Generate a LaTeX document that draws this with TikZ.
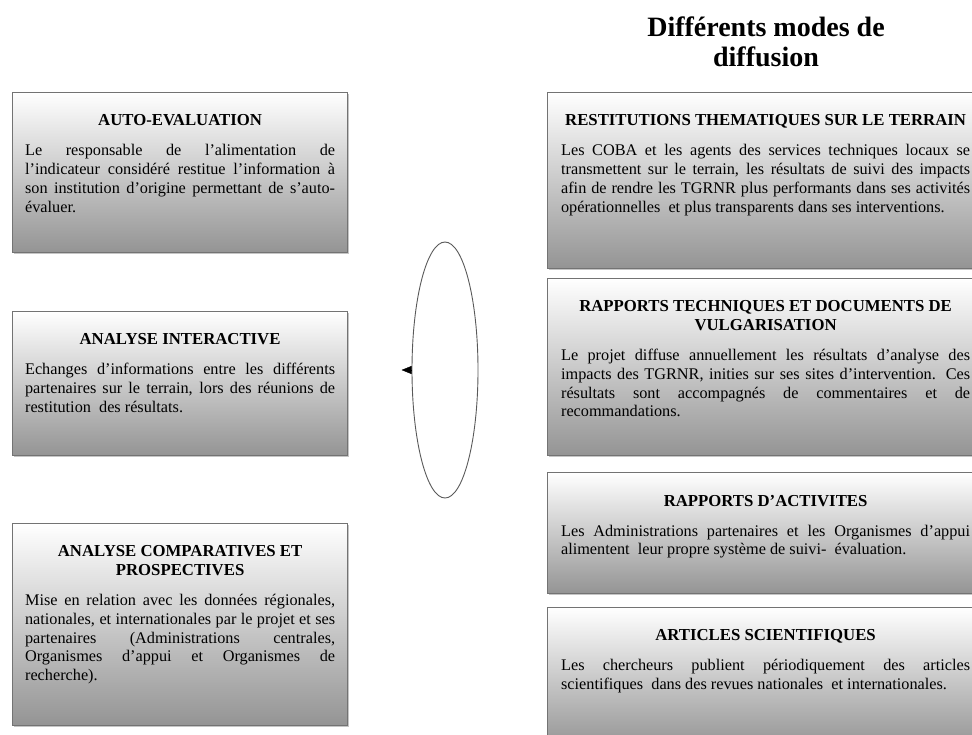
\documentclass[tikz,border=0pt]{standalone}
\usepackage{fontspec}
\setmainfont{Liberation Serif}
\usetikzlibrary{positioning, shapes.geometric, shadows, arrows.meta}
\setlength{\parindent}{0pt}

\tikzset{
    boite/.style={anchor=north west, inner sep=0pt, draw=black!55, line width=1.2pt,
        top color=white, bottom color=black!42,
        drop shadow={shadow xshift=1.5pt, shadow yshift=-1.5pt, fill=black!45}},
    texte/.style={anchor=north, inner sep=0pt, align=justify,
        font={\fontsize{16.25}{18.7}\selectfont\hyphenpenalty=10000\relax}},
}
\newcommand{\entete}[1]{{\centering\bfseries\fontsize{16.75}{18.7}\selectfont #1\par}\vspace{11.3pt}}

\begin{document}
\begin{tikzpicture}[x=1pt, y=-1pt]
    \useasboundingbox (0,0) rectangle (972,734);

    % Titre
    \node[anchor=north, align=center, font=\bfseries\fontsize{28}{30}\selectfont] (titre) at (766,13)
        {Différents modes de\\diffusion};

    % Colonne de gauche
    \node[boite, minimum width=335pt, minimum height=160pt] (autoeval) at (12,92) {};
    \node[texte, text width=310pt, below=22.7pt of autoeval.north] (autoeval-t)
        {\entete{AUTO-EVALUATION}Le responsable de l’alimentation de\linebreak
        l’indicateur considéré restitue l’information à\linebreak
        son institution d’origine permettant de s’auto-\linebreak
        évaluer.};

    \node[boite, minimum width=335pt, minimum height=144pt] (interactive) at (12,311) {};
    \node[texte, text width=310pt, below=22.7pt of interactive.north] (interactive-t)
        {\entete{ANALYSE INTERACTIVE}Echanges d’informations entre les différents\linebreak
        partenaires sur le terrain, lors des réunions de\linebreak
        restitution\ \ des résultats.};

    \node[boite, minimum width=335pt, minimum height=202pt] (comparative) at (12,523) {};
    \node[texte, text width=310pt, below=22.7pt of comparative.north] (comparative-t)
        {\entete{ANALYSE COMPARATIVES ET\\PROSPECTIVES}Mise en relation avec les données régionales,\linebreak
        nationales, et internationales par le projet et ses\linebreak
        partenaires (Administrations centrales,\linebreak
        Organismes d’appui et Organismes de\linebreak
        recherche).};

    % Cycle
    \node[ellipse, draw=black!65, line width=0.9pt, minimum width=66pt, minimum height=256pt, inner sep=0pt] (cycle) at (445,370) {};
    \draw[-{Triangle[length=10pt,width=8pt]}] (cycle.west) -- ++(-10pt,0);

    % Colonne de droite
    \node[boite, minimum width=436pt, minimum height=176pt] (restitution) at (547,92) {};
    \node[texte, text width=409pt, below=22.7pt of restitution.north] (restitution-t)
        {\entete{RESTITUTIONS THEMATIQUES SUR LE TERRAIN}Les COBA et les agents des services techniques locaux se\linebreak
        transmettent sur le terrain, les résultats de suivi des impacts\linebreak
        afin de rendre les TGRNR plus performants dans ses activités\linebreak
        opérationnelles\ \ et plus transparents dans ses interventions.};

    \node[boite, minimum width=436pt, minimum height=177pt] (techniques) at (547,278) {};
    \node[texte, text width=409pt, below=22.7pt of techniques.north] (techniques-t)
        {\entete{RAPPORTS TECHNIQUES ET DOCUMENTS DE\\VULGARISATION}Le projet diffuse annuellement les résultats d’analyse des\linebreak
        impacts des TGRNR, inities sur ses sites d’intervention. Ces\linebreak
        résultats sont accompagnés de commentaires et de\linebreak
        recommandations.};

    \node[boite, minimum width=436pt, minimum height=121pt] (activites) at (547,472) {};
    \node[texte, text width=409pt, below=22.7pt of activites.north] (activites-t)
        {\entete{RAPPORTS D’ACTIVITES}Les Administrations partenaires et les Organismes d’appui\linebreak
        alimentent\ \ leur propre système de suivi-\ \ évaluation.};

    \node[boite, minimum width=436pt, minimum height=140pt] (articles) at (547,607) {};
    \node[texte, text width=409pt, below=22.7pt of articles.north] (articles-t)
        {\entete{ARTICLES SCIENTIFIQUES}Les chercheurs publient périodiquement des articles\linebreak
        scientifiques\ \ dans des revues nationales\ \ et internationales.};
\end{tikzpicture}
\end{document}
